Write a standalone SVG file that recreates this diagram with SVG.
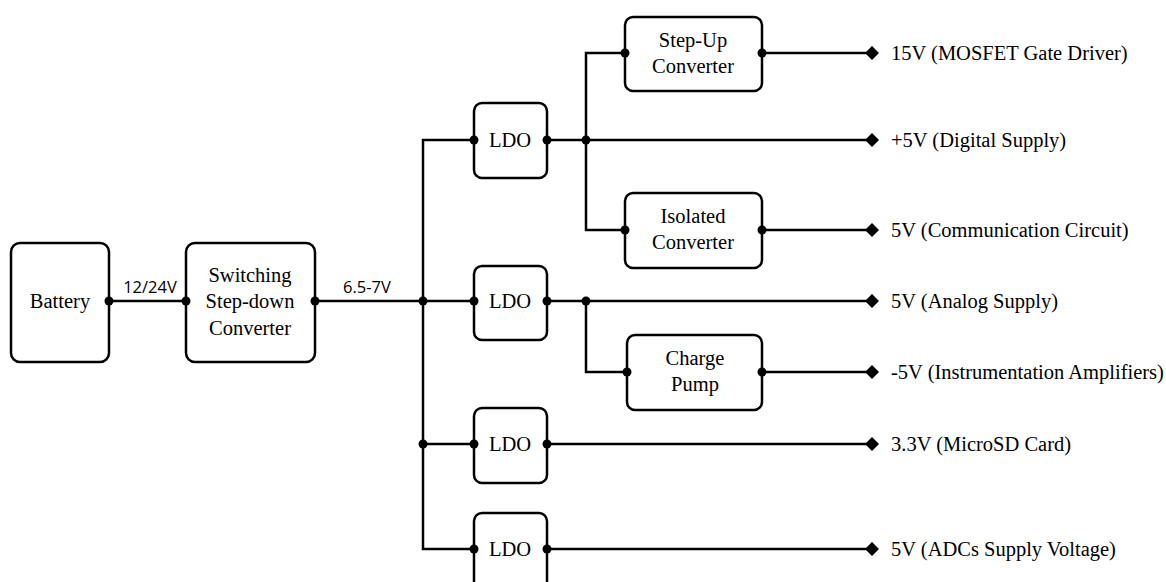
<svg xmlns="http://www.w3.org/2000/svg" width="1166" height="582" viewBox="0 0 1166 582">
<style>
.box{fill:#fff;stroke:#000;stroke-width:2.5}
.t{font-family:"Liberation Serif","Times New Roman",serif;font-size:20.5px;fill:#000;text-anchor:middle}
.o{font-family:"Liberation Serif","Times New Roman",serif;font-size:20.5px;fill:#000}
.s{font-family:"Open Sans","Liberation Sans",sans-serif;font-size:16.5px;fill:#000;text-anchor:middle}
.w{fill:none;stroke:#000;stroke-width:2.5}
.d{fill:#000}
</style>
<defs>
<marker id="dia" markerUnits="userSpaceOnUse" markerWidth="16" markerHeight="16" refX="8" refY="8" orient="auto">
<path d="M1,8 L8,1 L15,8 L8,15 Z" fill="#000"/>
</marker>
</defs>
<rect width="1166" height="582" fill="#fff"/>
<g id="connectors">
<path class="w" d="M109,301 H186"/>
<path class="w" d="M315,301 H474"/>
<path class="w" d="M474,140 H423 V549 H474"/>
<path class="w" d="M423,444 H474"/>
<path class="w" d="M547,140 H872" marker-end="url(#dia)"/>
<path class="w" d="M625,53 H586 V230 H625"/>
<path class="w" d="M762,53 H872" marker-end="url(#dia)"/>
<path class="w" d="M762,230 H872" marker-end="url(#dia)"/>
<path class="w" d="M547,301 H872" marker-end="url(#dia)"/>
<path class="w" d="M586,301 V372 H627"/>
<path class="w" d="M762,372 H872" marker-end="url(#dia)"/>
<path class="w" d="M547,444 H872" marker-end="url(#dia)"/>
<path class="w" d="M547,549 H872" marker-end="url(#dia)"/>
<text class="s" x="150" y="293">12/24V</text>
<text class="s" x="367" y="293">6.5-7V</text>
</g>
<g id="battery"><rect class="box" x="11" y="243" width="98" height="119" rx="9"/><text class="t" x="60" y="308">Battery</text></g>
<g id="switching"><rect class="box" x="186" y="243" width="129" height="119" rx="9"/><text class="t" x="250" y="282">Switching</text><text class="t" x="250" y="308">Step-down</text><text class="t" x="250" y="335">Converter</text></g>
<g id="ldo1"><rect class="box" x="474" y="103" width="73" height="75" rx="8"/><text class="t" x="510" y="147">LDO</text></g>
<g id="ldo2"><rect class="box" x="474" y="266" width="73" height="74" rx="8"/><text class="t" x="510" y="308">LDO</text></g>
<g id="ldo3"><rect class="box" x="474" y="408" width="73" height="75" rx="8"/><text class="t" x="510" y="451">LDO</text></g>
<g id="ldo4"><rect class="box" x="474" y="513" width="73" height="80" rx="8"/><text class="t" x="510" y="556">LDO</text></g>
<g id="stepup"><rect class="box" x="625" y="17" width="137" height="74" rx="8"/><text class="t" x="693" y="47">Step-Up</text><text class="t" x="693" y="73">Converter</text></g>
<g id="isolated"><rect class="box" x="625" y="193" width="137" height="75" rx="8"/><text class="t" x="693" y="223">Isolated</text><text class="t" x="693" y="249">Converter</text></g>
<g id="chargepump"><rect class="box" x="627" y="335" width="135" height="75" rx="8"/><text class="t" x="695" y="365">Charge</text><text class="t" x="695" y="391">Pump</text></g>
<g id="dots">
<circle class="d" cx="109" cy="301" r="4.5"/><circle class="d" cx="186" cy="301" r="4.5"/>
<circle class="d" cx="315" cy="301" r="4.5"/><circle class="d" cx="423" cy="301" r="4.5"/>
<circle class="d" cx="423" cy="444" r="4.5"/>
<circle class="d" cx="474" cy="140" r="4.5"/><circle class="d" cx="547" cy="140" r="4.5"/>
<circle class="d" cx="474" cy="301" r="4.5"/><circle class="d" cx="547" cy="301" r="4.5"/>
<circle class="d" cx="474" cy="444" r="4.5"/><circle class="d" cx="547" cy="444" r="4.5"/>
<circle class="d" cx="474" cy="549" r="4.5"/><circle class="d" cx="547" cy="549" r="4.5"/>
<circle class="d" cx="586" cy="140" r="4.5"/><circle class="d" cx="586" cy="301" r="4.5"/>
<circle class="d" cx="625" cy="53" r="4.5"/><circle class="d" cx="762" cy="53" r="4.5"/>
<circle class="d" cx="625" cy="230" r="4.5"/><circle class="d" cx="762" cy="230" r="4.5"/>
<circle class="d" cx="627" cy="372" r="4.5"/><circle class="d" cx="762" cy="372" r="4.5"/>
</g>
<g id="outputs">
<text class="o" x="891" y="60">15V (MOSFET Gate Driver)</text>
<text class="o" x="891" y="147">+5V (Digital Supply)</text>
<text class="o" x="891" y="237">5V (Communication Circuit)</text>
<text class="o" x="891" y="308">5V (Analog Supply)</text>
<text class="o" x="891" y="379">-5V (Instrumentation Amplifiers)</text>
<text class="o" x="891" y="451">3.3V (MicroSD Card)</text>
<text class="o" x="891" y="556">5V (ADCs Supply Voltage)</text>
</g>
</svg>
